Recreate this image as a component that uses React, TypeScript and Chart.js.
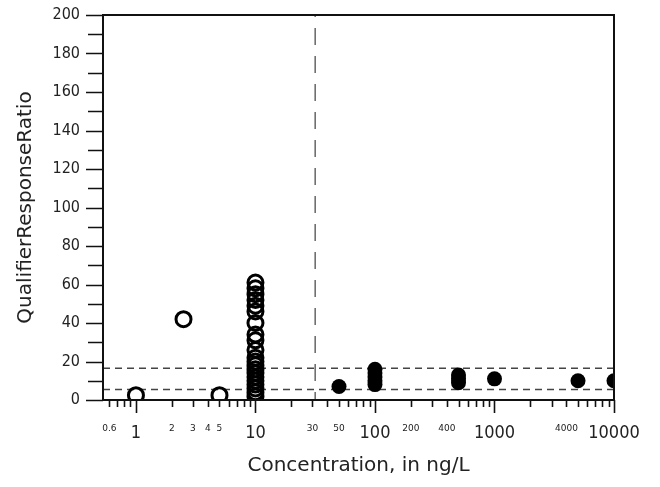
import React, { useEffect, useRef } from 'react';
import { Chart, registerables } from 'chart.js';

Chart.register(...registerables);

// ---- data ----
const openConc = [1, 2.5, 5, 10, 10, 10, 10, 10, 10, 10, 10, 10, 10, 10, 10, 10, 10, 10, 10, 10, 10, 10, 10, 10];
const openRatio = [2.5, 42, 2.5, 61, 58, 55, 52, 49, 46, 40, 34, 31, 26, 22, 20, 18, 16, 14, 12, 10, 8, 6, 4, 2];

const filledConc = [50, 100, 100, 100, 100, 100, 500, 500, 500, 1000, 5000, 10000];
const filledRatio = [7, 16, 14, 12, 10, 8, 13, 11, 9, 11, 10, 10];

const upperLimit = 16.5;
const lowerLimit = 5.5;
const thresholdConc = 31.6;

const xMajorLabels = [1, 10, 100, 1000, 10000];
const xMinorLabels = [0.6, 2, 3, 4, 5, 30, 50, 200, 400, 4000];
const yLabels = [0, 20, 40, 60, 80, 100, 120, 140, 160, 180, 200];

const X_MIN = 0.53;
const X_MAX = 10000;
const Y_MIN = 0;
const Y_MAX = 200;

const COND = "'DejaVu Sans Condensed', 'DejaVu Sans', sans-serif";
const SANS = "'DejaVu Sans', sans-serif";

function xTickValues(): number[] {
  const out: number[] = [];
  for (let e = -1; e <= 3; e++) {
    for (let m = 1; m <= 9; m++) {
      const v = parseFloat((m * Math.pow(10, e)).toPrecision(6));
      if (v >= X_MIN && v <= X_MAX) out.push(v);
    }
  }
  out.push(10000);
  return out;
}
const Y_MINOR_STEP = 10;

const tickPlugin = {
  id: 'axisTicks',
  afterDraw(chart: any) {
    const { ctx, chartArea } = chart;
    const xs = chart.scales.x;
    const ys = chart.scales.y;
    ctx.save();
    ctx.strokeStyle = '#111';
    ctx.lineWidth = 2;
    ctx.strokeRect(chartArea.left, chartArea.top, chartArea.right - chartArea.left, chartArea.bottom - chartArea.top);
    ctx.lineWidth = 1.6;
    ctx.beginPath();
    for (const v of xTickValues()) {
      const px = Math.round(xs.getPixelForValue(v)) + 0.5;
      const len = xMajorLabels.includes(v) ? 13 : 7;
      ctx.moveTo(px, chartArea.bottom);
      ctx.lineTo(px, chartArea.bottom + len);
    }
    for (let v = Y_MIN; v <= Y_MAX; v += Y_MINOR_STEP) {
      const py = Math.round(ys.getPixelForValue(v)) + 0.5;
      const len = yLabels.includes(v) ? 17 : 15;
      ctx.moveTo(chartArea.left, py);
      ctx.lineTo(chartArea.left - len, py);
    }
    ctx.stroke();
    ctx.restore();
  },
};

export default function App() {
  const ref = useRef<HTMLCanvasElement>(null);
  useEffect(() => {
    if (!ref.current) return;
    const chart = new Chart(ref.current, {
      type: 'scatter',
      data: {
        datasets: [
          {
            label: 'below',
            data: openConc.map((x, i) => ({ x, y: openRatio[i] })),
            pointStyle: 'circle',
            pointRadius: 7.5,
            pointBorderWidth: 3,
            pointBackgroundColor: 'rgba(0,0,0,0)',
            pointBorderColor: '#000',
            clip: 0,
          } as any,
          {
            label: 'above',
            data: filledConc.map((x, i) => ({ x, y: filledRatio[i] })),
            pointStyle: 'circle',
            pointRadius: 7.5,
            pointBorderWidth: 0,
            pointBackgroundColor: '#000',
            pointBorderColor: '#000',
            clip: 0,
          } as any,
          {
            label: 'upper',
            data: [{ x: X_MIN, y: upperLimit }, { x: X_MAX, y: upperLimit }],
            showLine: true,
            pointRadius: 0,
            borderColor: '#444',
            borderWidth: 1.5,
            borderDash: [7, 5],
            clip: 0,
          } as any,
          {
            label: 'lower',
            data: [{ x: X_MIN, y: lowerLimit }, { x: X_MAX, y: lowerLimit }],
            showLine: true,
            pointRadius: 0,
            borderColor: '#444',
            borderWidth: 1.5,
            borderDash: [7, 5],
            clip: 0,
          } as any,
          {
            label: 'threshold',
            data: [{ x: thresholdConc, y: Y_MAX }, { x: thresholdConc, y: Y_MIN }],
            showLine: true,
            pointRadius: 0,
            borderColor: '#666',
            borderWidth: 1.5,
            borderDash: [17, 11],
            borderDashOffset: -13,
            clip: 0,
          } as any,
        ],
      },
      options: {
        responsive: false,
        animation: false,
        devicePixelRatio: 1,
        layout: { padding: { left: 0, right: 46, top: 15, bottom: 0 } },
        plugins: { legend: { display: false }, tooltip: { enabled: false } },
        scales: {
          x: {
            type: 'logarithmic',
            min: X_MIN,
            max: X_MAX,
            afterBuildTicks: (s: any) => {
              s.ticks = xTickValues().map((v) => ({ value: v, major: xMajorLabels.includes(v) }));
            },
            afterFit: (s: any) => {
              s.height = 87;
              s.paddingLeft = 0;
              s.paddingRight = 0;
            },
            grid: { display: false, drawTicks: false },
            border: { display: false },
            ticks: {
              autoSkip: false,
              maxRotation: 0,
              minRotation: 0,
              padding: 23,
              color: '#222',
              callback: (v: any) => {
                const n = Number(v);
                if (xMajorLabels.includes(n) || xMinorLabels.includes(n)) return String(n);
                return '';
              },
              font: (ctx: any) =>
                ctx.tick && xMajorLabels.includes(ctx.tick.value)
                  ? { family: COND, size: 18 }
                  : { family: SANS, size: 9 },
            },
            title: {
              display: true,
              text: 'Concentration, in ng/L',
              color: '#222',
              font: { family: SANS, size: 20 },
              padding: { top: 0, bottom: 9 },
            },
          },
          y: {
            type: 'linear',
            min: Y_MIN,
            max: Y_MAX,
            afterBuildTicks: (s: any) => {
              s.ticks = yLabels.map((v) => ({ value: v }));
            },
            afterFit: (s: any) => {
              s.width = 103;
              s.paddingTop = 0;
              s.paddingBottom = 0;
            },
            grid: { display: false, drawTicks: false },
            border: { display: false },
            ticks: {
              padding: 23,
              color: '#222',
              font: { family: COND, size: 16 },
              callback: (v: any) => String(v),
            },
            title: {
              display: true,
              text: 'QualifierResponseRatio',
              color: '#222',
              font: { family: SANS, size: 20 },
              padding: { top: 14, bottom: 0 },
            },
          },
        },
      },
      plugins: [tickPlugin],
    });
    return () => chart.destroy();
  }, []);
  return (
    <div style={{ position: 'fixed', left: 0, top: 0, width: 660, height: 487, background: '#fff' }}>
      <canvas ref={ref} width={660} height={487} style={{ display: 'block' }} />
    </div>
  );
}
